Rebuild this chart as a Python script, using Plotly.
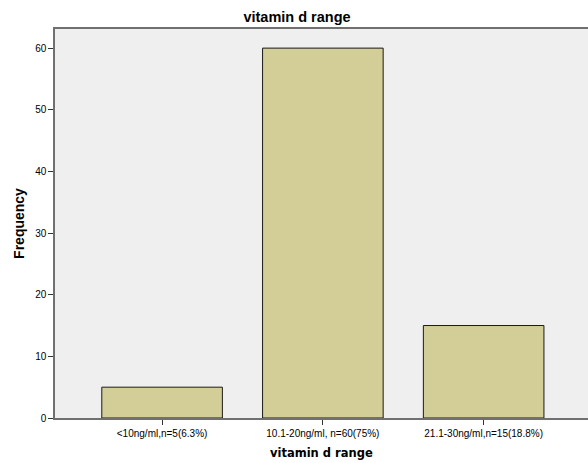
import plotly.graph_objects as go

categories = ["<10ng/ml,n=5(6.3%)", "10.1-20ng/ml, n=60(75%)", "21.1-30ng/ml,n=15(18.8%)"]
frequency = [5, 60, 15]
y_ticks = [0, 10, 20, 30, 40, 50, 60]

fig = go.Figure(go.Bar(
    x=categories, y=frequency,
    marker=dict(color="#D3CE97", line=dict(color="#1a1a1a", width=1)),
    width=0.75,
))

W, H = 588, 463
fig.update_layout(
    width=W, height=H,
    margin=dict(l=55, r=0, t=29, b=45),
    paper_bgcolor="white", plot_bgcolor="#EFEFEF",
    title=dict(text="<b>vitamin d range</b>", x=297 / W, xanchor="center",
               y=1 - 16.5 / H, yanchor="middle",
               font=dict(family="Liberation Sans, Arial", size=14.5, color="black")),
    showlegend=False,
    font=dict(family="Liberation Sans, Arial", size=10, color="black"),
    annotations=[
        dict(text="<b>vitamin d range</b>", xref="paper", yref="paper",
             x=0.5, y=-(453 - 418) / (H - 74), xanchor="center", yanchor="middle",
             showarrow=False, font=dict(family="DejaVu Sans", size=11.5, color="black")),
    ],
)
fig.update_xaxes(
    type="category", range=[-0.666, 2.649],
    showline=True, linecolor="#707070", linewidth=1.5, mirror=True,
    ticks="outside", ticklen=5, tickcolor="#333", tickwidth=1,
    showgrid=False, tickfont=dict(size=10),
)
fig.update_yaxes(
    range=[0, 63.1], tickvals=y_ticks,
    showline=True, linecolor="#707070", linewidth=1.5,
    ticks="outside", ticklen=5, tickcolor="#333", tickwidth=1,
    showgrid=False, zeroline=False, tickfont=dict(size=10),
    title=dict(text="<b>Frequency</b>", font=dict(family="Liberation Sans, Arial", size=14), standoff=7),
)

fig.write_html("out.html", config={"displayModeBar": False},
               post_script="document.body.style.margin='0';document.body.style.overflow='hidden';")
